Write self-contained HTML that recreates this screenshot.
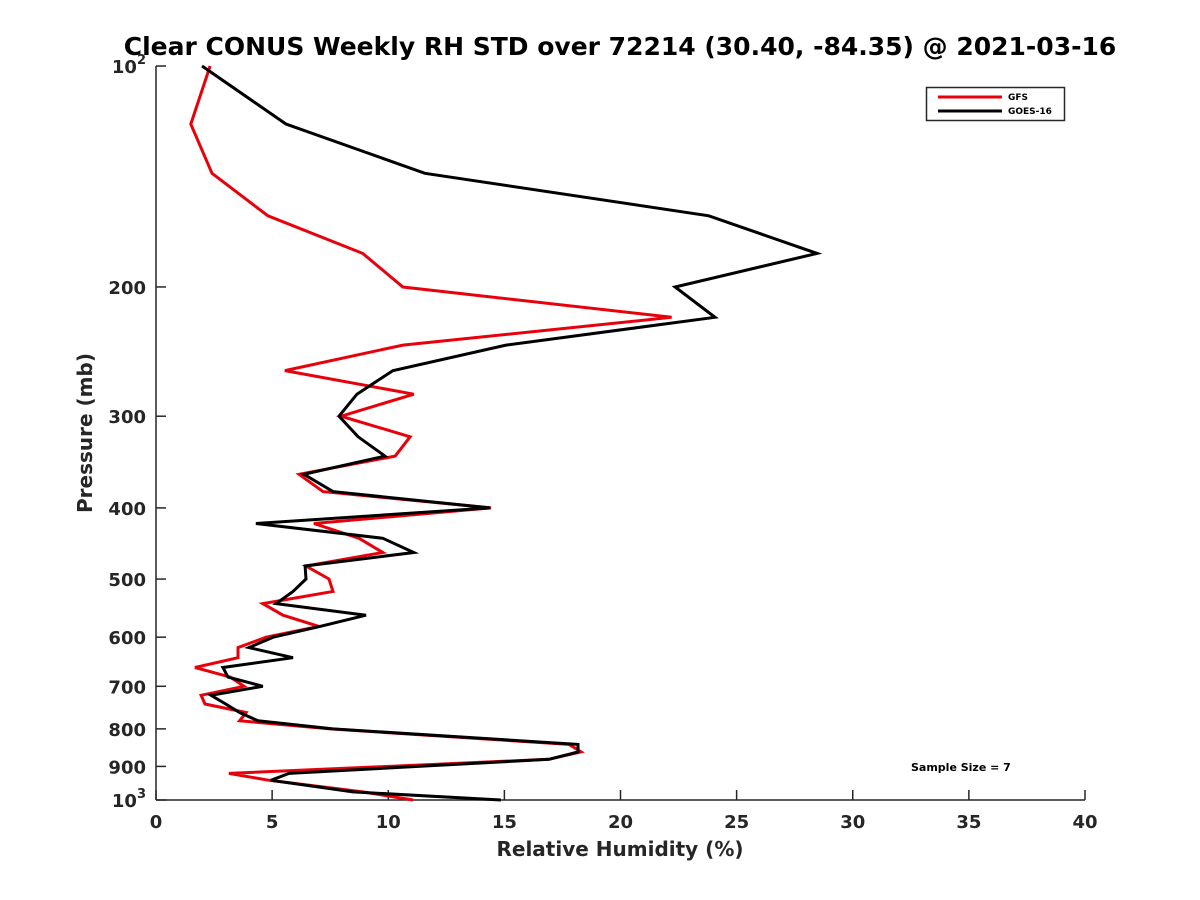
<!DOCTYPE html>
<html><head><meta charset="utf-8"><style>
html,body{margin:0;padding:0;background:#fff;}
svg{display:block;font-family:"DejaVu Sans","Liberation Sans",sans-serif;font-weight:bold;}
</style></head><body>
<svg id="chart" width="1200" height="900" viewBox="0 0 1200 900">
<text x="620" y="55" text-anchor="middle" font-size="25" fill="#000">Clear CONUS Weekly RH STD over 72214 (30.40, -84.35) @ 2021-03-16</text>
<g id="axes"></g>
<g id="series"></g>
<text x="620" y="856" text-anchor="middle" font-size="20" fill="#262626">Relative Humidity (%)</text>
<text transform="translate(92,433) rotate(-90)" text-anchor="middle" font-size="20" fill="#262626">Pressure (mb)</text>
<g>
<rect x="926.5" y="87.5" width="138" height="33" fill="#fff" stroke="#262626" stroke-width="1.5"/>
<g>
<line x1="938" y1="97" x2="1002" y2="97" stroke="#e8000b" stroke-width="3"/>
<text x="1008" y="100" font-size="9" fill="#000">GFS</text></g>
<g>
<line x1="938" y1="111" x2="1002" y2="111" stroke="#000" stroke-width="3"/>
<text x="1008" y="114" font-size="9" fill="#000">GOES-16</text></g>
</g>
<text x="911" y="771" font-size="11" fill="#000">Sample Size = 7</text>
</svg>
<script>
const pressureLevels = [100,120,140,160,180,200,220,240,260,280,300,320,340,360,380,400,420,440,460,480,500,520,540,560,580,600,620,640,660,680,700,720,740,760,780,800,840,860,880,920,940,975,1000];
const gfsValues = [2.33,1.5,2.41,4.82,8.9,10.63,22.2,10.63,5.55,11.1,7.97,10.94,10.3,6.16,7.19,14.42,6.8,8.74,9.77,6.46,7.45,7.62,4.6,5.47,7.02,4.74,3.53,3.53,1.68,3.2,3.79,1.94,2.11,3.88,3.6,7.5,17.78,18.3,16.92,3.14,4.87,8.9,11.07];
const goesValues = [1.98,5.6,11.58,23.8,28.46,22.35,24.07,15.07,10.2,8.65,7.88,8.7,9.86,6.37,7.62,14.38,4.3,9.77,11.1,6.42,6.46,5.9,5.17,9.04,7.06,5.04,4.0,5.9,2.88,3.1,4.6,2.37,3.0,3.6,4.39,7.62,18.17,18.17,16.92,5.73,4.95,8.48,14.85];
const xTicks = [0,5,10,15,20,25,30,35,40];
const yTicks = [100,200,300,400,500,600,700,800,900,1000];
const yTickLabels = ["10|2","200","300","400","500","600","700","800","900","10|3"];

const X0=156,X1=1085,Y0=66,Y1=800,XMAX=40;
function xs(v){return X0+(v/XMAX)*(X1-X0);}
function ys(p){return Y0+Math.log10(p/100)*(Y1-Y0);}
const NS="http://www.w3.org/2000/svg";
const axes=document.getElementById('axes');
const series=document.getElementById('series');
function mk(tag,attrs,parent){const e=document.createElementNS(NS,tag);for(const k in attrs)e.setAttribute(k,attrs[k]);parent.appendChild(e);return e;}

let l=mk('line',{x1:X0,y1:Y0,x2:X0,y2:Y1,stroke:'#262626','stroke-width':1.5},axes);


l=mk('line',{x1:X0,y1:Y1,x2:X1,y2:Y1,stroke:'#262626','stroke-width':1.5},axes);



xTicks.forEach(v=>{
  const x=xs(v);
  const t=mk('line',{x1:x,y1:Y1,x2:x,y2:Y1-10,stroke:'#262626','stroke-width':1.5},axes);
  
  
  const tx=mk('text',{x:x,y:Y1+28,'text-anchor':'middle','font-size':18,fill:'#262626'},axes);
  tx.textContent=String(v);
  
  
});
yTicks.forEach((p,i)=>{
  const y=ys(p);
  const t=mk('line',{x1:X0,y1:y,x2:X0+10,y2:y,stroke:'#262626','stroke-width':1.5},axes);
  
  
  const lab=yTickLabels[i];
  const tx=mk('text',{x:X0-10,y:y+7,'text-anchor':'end','font-size':18,fill:'#262626'},axes);
  
  
  if(lab.indexOf('|')>=0){
    const [b,e]=lab.split('|');
    const t1=mk('tspan',{},tx);t1.textContent=b;
    const t2=mk('tspan',{dy:-9,'font-size':13},tx);t2.textContent=e;
  } else tx.textContent=lab;
});

function drawLine(vals,color,name){
  const d=vals.map((v,i)=>(i?'L':'M')+xs(v).toFixed(1)+','+ys(pressureLevels[i]).toFixed(1)).join(' ');
  const p=mk('path',{d:d,fill:'none',stroke:color,'stroke-width':3,'stroke-linejoin':'miter'},series);
  
  
}
drawLine(gfsValues,'#e8000b','gfs-line');
drawLine(goesValues,'#000000','goes16-line');
</script>
</body></html>
